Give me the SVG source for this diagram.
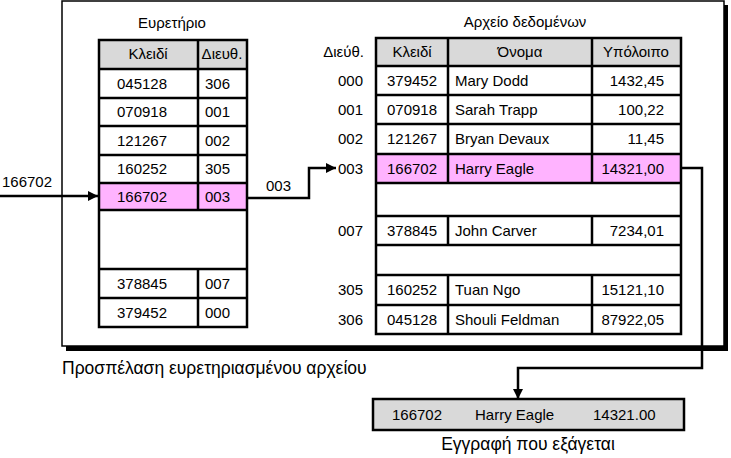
<svg xmlns="http://www.w3.org/2000/svg" width="731" height="458" viewBox="0 0 731 458">
<style>
text{font-family:"Liberation Sans",Arial,sans-serif;font-size:15px;fill:#000}
.cap{font-size:17.5px}
.m{text-anchor:middle}
.e{text-anchor:end}
.grid{fill:none;stroke:#000;stroke-width:2.5}
.hdr{fill:#d9d9d9}
.pink{fill:#ffb3ff}
.wh{fill:#fff}
.con{fill:none;stroke:#000;stroke-width:2.5}
</style>
<defs>
<marker id="ah" viewBox="0 0 10 10" refX="10" refY="5" markerWidth="10" markerHeight="10" markerUnits="userSpaceOnUse" orient="auto">
<path d="M0,0 L10,5 L0,10 Z" fill="#000"/>
</marker>
</defs>

<g id="frame">
<rect x="66" y="5" width="662" height="346" fill="#000"/>
<rect x="62" y="1" width="662" height="345" fill="#fff" stroke="#000" stroke-width="1.5"/>
<text class="cap" x="62" y="374">Προσπέλαση ευρετηριασμένου αρχείου</text>
</g>

<g id="index">
<text class="m" x="172" y="28">Ευρετήριο</text>
<rect class="hdr" x="99" y="40" width="148" height="29"/>
<rect class="wh" x="99" y="69" width="148" height="114"/>
<rect class="pink" x="99" y="183" width="148" height="27"/>
<rect class="wh" x="99" y="210" width="148" height="117"/>
<path class="grid" d="M99,40 H247 V327 H99 Z M99,69 H247 M99,98 H247 M99,126 H247 M99,155 H247 M99,183 H247 M99,210 H247 M99,269 H247 M99,298 H247 M198,40 V210 M198,269 V327"/>
<text class="m" x="148" y="59">Κλειδί</text>
<text class="m" x="222" y="59">Διευθ.</text>
<text x="117" y="89">045128</text><text x="205" y="89">306</text>
<text x="117" y="117">070918</text><text x="205" y="117">001</text>
<text x="117" y="146">121267</text><text x="205" y="146">002</text>
<text x="117" y="174">160252</text><text x="205" y="174">305</text>
<text x="117" y="202">166702</text><text x="205" y="202">003</text>
<text x="117" y="289">378845</text><text x="205" y="289">007</text>
<text x="117" y="318">379452</text><text x="205" y="318">000</text>
</g>

<g id="datafile">
<text class="m" x="525" y="27">Αρχείο δεδομένων</text>
<rect class="hdr" x="376" y="38" width="305" height="28"/>
<rect class="wh" x="376" y="66" width="305" height="88"/>
<rect class="pink" x="376" y="154" width="305" height="29"/>
<rect class="wh" x="376" y="183" width="305" height="151"/>
<path class="grid" d="M376,38 H681 V334 H376 Z M376,66 H681 M376,95 H681 M376,124 H681 M376,154 H681 M376,183 H681 M376,216 H681 M376,245 H681 M376,275 H681 M376,305 H681 M448,38 V183 M592,38 V183 M448,216 V245 M592,216 V245 M448,275 V334 M592,275 V334"/>
<text class="e" x="364" y="57">Διεύθ.</text>
<text class="m" x="412" y="57">Κλειδί</text>
<text class="m" x="520" y="57">Όνομα</text>
<text class="m" x="636" y="57">Υπόλοιπο</text>

<text class="e" x="363" y="86">000</text><text class="m" x="412" y="86">379452</text><text x="455" y="86">Mary Dodd</text><text class="e" x="664" y="86">1432,45</text>
<text class="e" x="363" y="115">001</text><text class="m" x="412" y="115">070918</text><text x="455" y="115">Sarah Trapp</text><text class="e" x="664" y="115">100,22</text>
<text class="e" x="363" y="144">002</text><text class="m" x="412" y="144">121267</text><text x="455" y="144">Bryan Devaux</text><text class="e" x="664" y="144">11,45</text>
<text class="e" x="363" y="174">003</text><text class="m" x="412" y="174">166702</text><text x="455" y="174">Harry Eagle</text><text class="e" x="664" y="174">14321,00</text>
<text class="e" x="363" y="236">007</text><text class="m" x="412" y="236">378845</text><text x="455" y="236">John Carver</text><text class="e" x="664" y="236">7234,01</text>
<text class="e" x="363" y="295">305</text><text class="m" x="412" y="295">160252</text><text x="455" y="295">Tuan Ngo</text><text class="e" x="664" y="295">15121,10</text>
<text class="e" x="363" y="325">306</text><text class="m" x="412" y="325">045128</text><text x="455" y="325">Shouli Feldman</text><text class="e" x="664" y="325">87922,05</text>
</g>

<g id="record">
<rect x="373" y="399" width="311" height="31" fill="#d9d9d9" stroke="#000" stroke-width="2.5"/>
<text x="392" y="420">166702</text>
<text x="475" y="420">Harry Eagle</text>
<text x="593" y="420">14321.00</text>
<text class="cap m" x="528" y="450">Εγγραφή που εξάγεται</text>
</g>

<g id="input">
<text x="2" y="187">166702</text>
</g>

<g id="connectors">
<path class="con" d="M0,196 H98" marker-end="url(#ah)"/>
<path class="con" d="M247,198 H309 V168 H336" marker-end="url(#ah)"/>
<text x="266" y="191">003</text>
<path class="con" d="M681,168 H702 V368 H518 V399" marker-end="url(#ah)"/>
</g>
</svg>
